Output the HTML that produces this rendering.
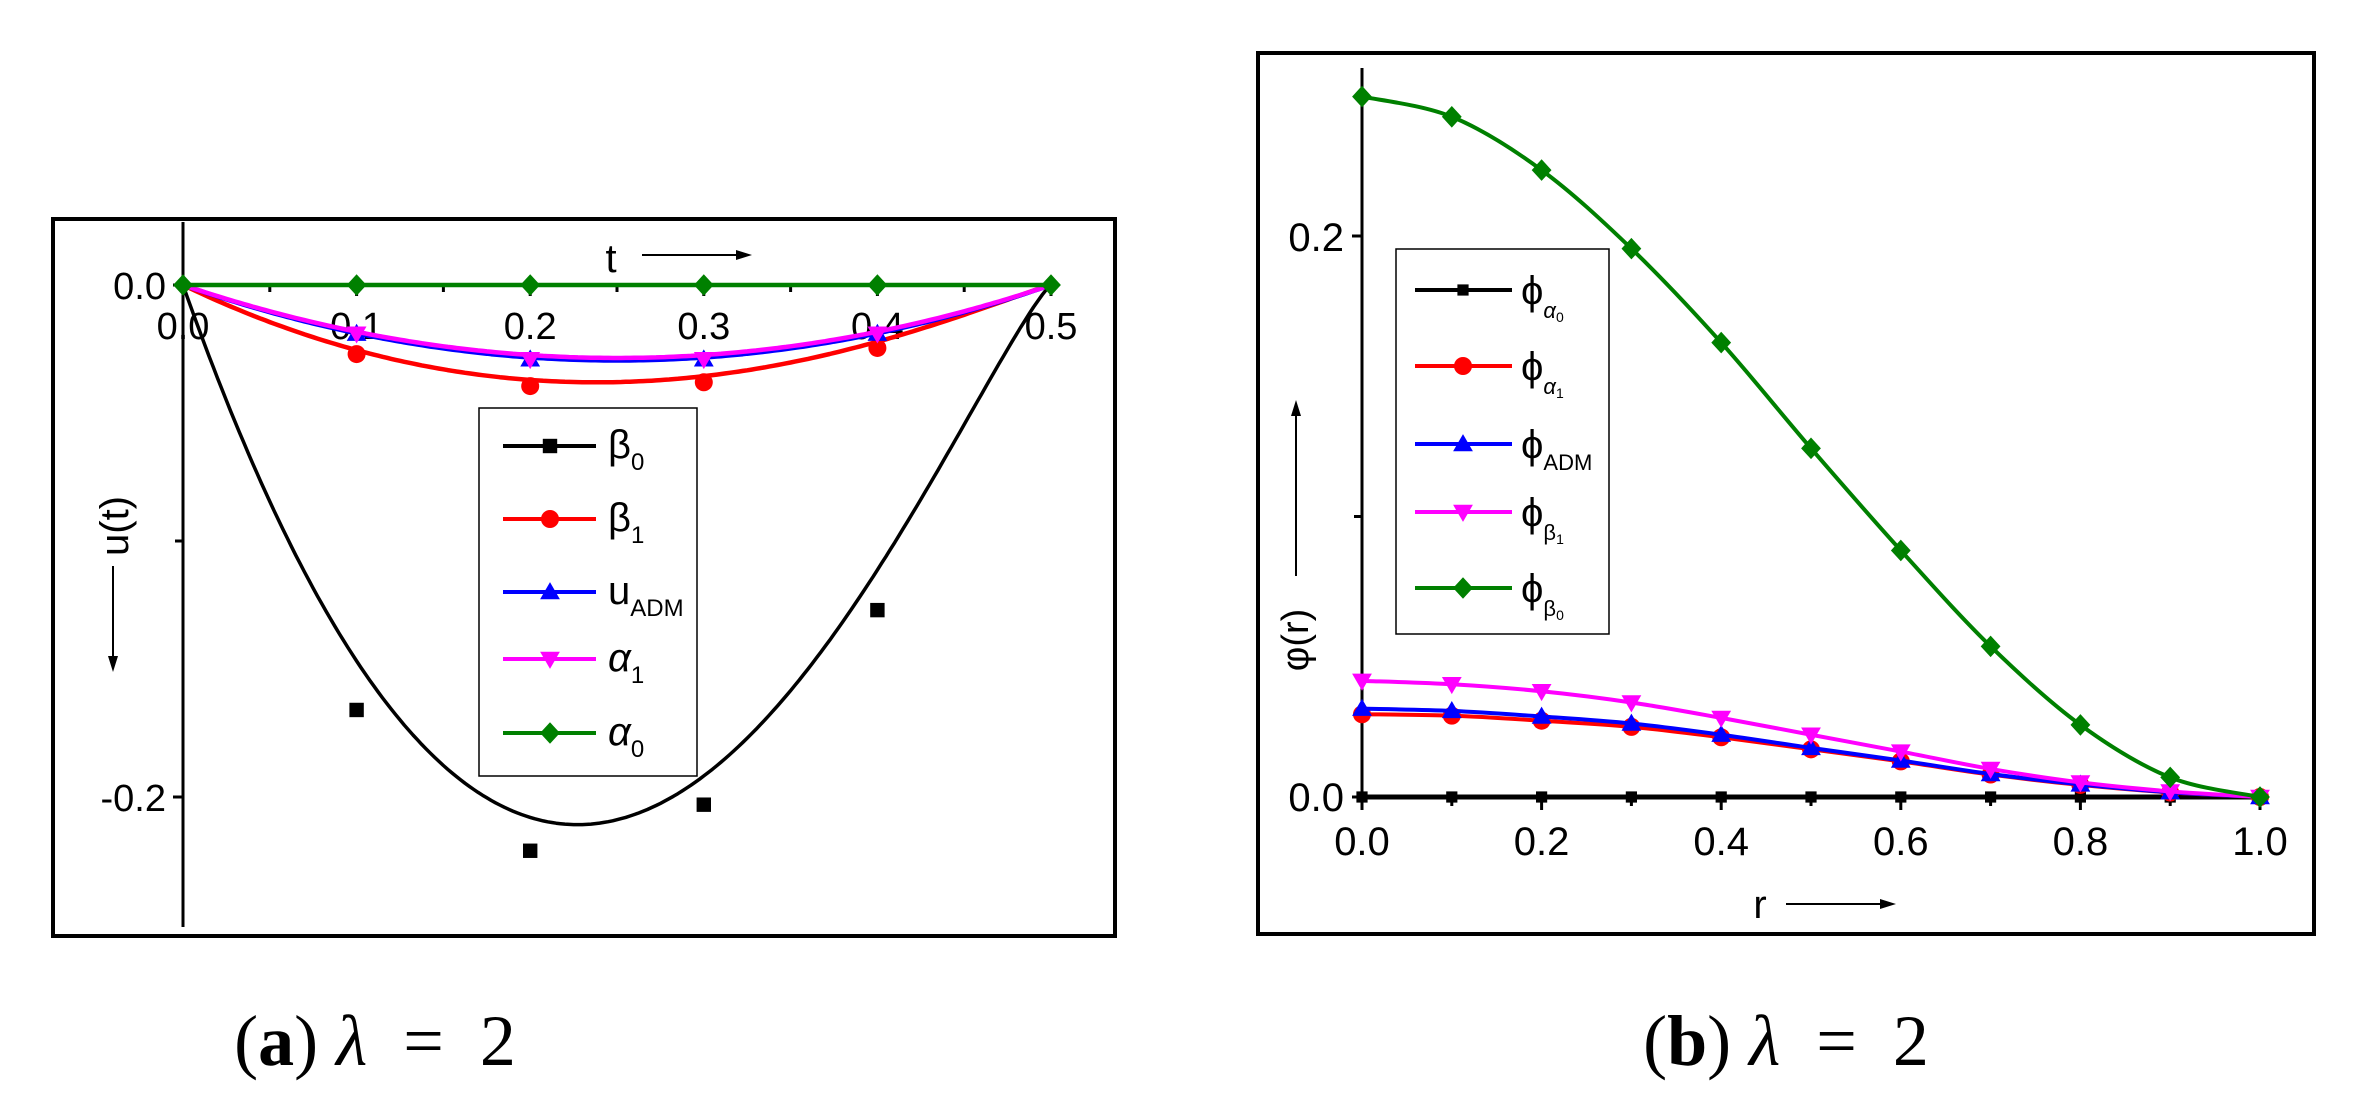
<!DOCTYPE html>
<html><head><meta charset="utf-8"><style>
html,body{margin:0;padding:0;background:#fff;}
svg{display:block;}
text{font-family:"Liberation Sans",Arial,sans-serif;}
.cap{font-family:"Liberation Serif","DejaVu Serif",serif;}
</style></head><body>
<svg id="s" width="2365" height="1095" viewBox="0 0 2365 1095" xmlns="http://www.w3.org/2000/svg">
<rect width="2365" height="1095" fill="#fff"/>
<rect x="53" y="219" width="1062" height="717" fill="none" stroke="#000" stroke-width="4"/>
<line x1="183" y1="222" x2="183" y2="927" stroke="#000" stroke-width="3"/>
<line x1="173" y1="285" x2="183" y2="285" stroke="#000" stroke-width="3"/>
<line x1="175" y1="541" x2="183" y2="541" stroke="#000" stroke-width="3"/>
<line x1="173" y1="797" x2="183" y2="797" stroke="#000" stroke-width="3"/>
<g font-size="38" text-anchor="end">
<text x="166" y="299">0.0</text>
<text x="166" y="811">-0.2</text>
</g>
<g font-size="38" text-anchor="middle" id="lxt"></g>
<text x="611" y="272" font-size="40" text-anchor="middle">t</text>
<line x1="642" y1="255" x2="740" y2="255" stroke="#000" stroke-width="2"/>
<polygon points="752,255 736,250 736,260" fill="#000"/>
<text transform="translate(128,526) rotate(-90)" font-size="40" text-anchor="middle">u(t)</text>
<line x1="113" y1="566" x2="113" y2="660" stroke="#000" stroke-width="2"/>
<polygon points="113,672 108,656 118,656" fill="#000"/>
<g id="left"></g>
<rect x="479" y="408" width="218" height="368" fill="#fff" stroke="#000" stroke-width="1.5"/>
<g id="lleg"></g>
<g font-size="40" font-family="Liberation Serif,serif">
<text x="608" y="458">β<tspan font-size="24" dy="12">0</tspan></text>
<text x="608" y="531">β<tspan font-size="24" dy="12">1</tspan></text>
<text x="608" y="604" font-family="Liberation Sans,sans-serif">u<tspan font-size="24" dy="12">ADM</tspan></text>
<text x="608" y="671" font-style="italic">α<tspan font-size="24" dy="12" font-style="normal">1</tspan></text>
<text x="608" y="745" font-style="italic">α<tspan font-size="24" dy="12" font-style="normal">0</tspan></text>
</g>

<rect x="1258" y="53" width="1056" height="881" fill="none" stroke="#000" stroke-width="4"/>
<line x1="1362" y1="68" x2="1362" y2="805" stroke="#000" stroke-width="3"/>
<line x1="1362" y1="797" x2="2262" y2="797" stroke="#000" stroke-width="3"/>
<g id="rt"></g>
<g font-size="40" text-anchor="end">
<text x="1344" y="811">0.0</text>
<text x="1344" y="251">0.2</text>
</g>
<g font-size="40" text-anchor="middle" id="rxt"></g>
<text x="1760" y="918" font-size="40" text-anchor="middle">r</text>
<line x1="1786" y1="904" x2="1884" y2="904" stroke="#000" stroke-width="2"/>
<polygon points="1896,904 1880,899 1880,909" fill="#000"/>
<text transform="translate(1308,640) rotate(-90)" font-size="38" text-anchor="middle">φ(r)</text>
<line x1="1296" y1="576" x2="1296" y2="412" stroke="#000" stroke-width="2"/>
<polygon points="1296,400 1291,416 1301,416" fill="#000"/>
<g id="right"></g>
<rect x="1396" y="249" width="213" height="385" fill="#fff" stroke="#000" stroke-width="1.5"/>
<g id="rleg"></g>
<g font-size="40" font-family="Liberation Serif,serif">
<text x="1521" y="304">ϕ<tspan font-size="22" dy="14" font-style="italic">α</tspan><tspan font-size="14" dy="4">0</tspan></text>
<text x="1521" y="380">ϕ<tspan font-size="22" dy="14" font-style="italic">α</tspan><tspan font-size="14" dy="4">1</tspan></text>
<text x="1521" y="458">ϕ<tspan font-size="22" dy="12" font-family="Liberation Sans,sans-serif">ADM</tspan></text>
<text x="1521" y="526">ϕ<tspan font-size="22" dy="14">β</tspan><tspan font-size="14" dy="4">1</tspan></text>
<text x="1521" y="602">ϕ<tspan font-size="22" dy="14">β</tspan><tspan font-size="14" dy="4">0</tspan></text>
</g>

<text class="cap" x="375" y="1065" font-size="72" text-anchor="middle" xml:space="preserve">(<tspan font-weight="bold">a</tspan>) <tspan font-style="italic">λ</tspan>  =  2</text>
<text class="cap" x="1786" y="1065" font-size="72" text-anchor="middle" xml:space="preserve">(<tspan font-weight="bold">b</tspan>) <tspan font-style="italic">λ</tspan>  =  2</text>
</svg>
<script>
var NS="http://www.w3.org/2000/svg";
function el(p,t,a){var e=document.createElementNS(NS,t);for(var k in a)e.setAttribute(k,a[k]);p.appendChild(e);return e;}
function path(pts){var d="M"+pts[0][0]+","+pts[0][1];for(var i=0;i<pts.length-1;i++){var p0=pts[i-1]||pts[i],p1=pts[i],p2=pts[i+1],p3=pts[i+2]||p2;
d+=" C"+(p1[0]+(p2[0]-p0[0])/6)+","+(p1[1]+(p2[1]-p0[1])/6)+" "+(p2[0]-(p3[0]-p1[0])/6)+","+(p2[1]-(p3[1]-p1[1])/6)+" "+p2[0]+","+p2[1];}return d;}
function poly(pts){return "M"+pts.map(function(p){return p[0].toFixed(1)+","+p[1].toFixed(1)}).join(" L");}
function marker(g,type,x,y,c,s){s=s||9;
if(type=="sq")el(g,"rect",{x:x-s*0.8,y:y-s*0.8,width:s*1.6,height:s*1.6,fill:c});
else if(type=="ci")el(g,"circle",{cx:x,cy:y,r:s,fill:c});
else if(type=="up")el(g,"polygon",{points:(x)+","+(y-s*1.1)+" "+(x-s*1.1)+","+(y+s*0.8)+" "+(x+s*1.1)+","+(y+s*0.8),fill:c});
else if(type=="dn")el(g,"polygon",{points:(x)+","+(y+s*1.1)+" "+(x-s*1.1)+","+(y-s*0.8)+" "+(x+s*1.1)+","+(y-s*0.8),fill:c});
else if(type=="di")el(g,"polygon",{points:x+","+(y-s*1.2)+" "+(x+s*1.1)+","+y+" "+x+","+(y+s*1.2)+" "+(x-s*1.1)+","+y,fill:c});}
var L=document.getElementById("left");
function lx(t){return 183+t*1736;} function ly(v){return 285-v*2560;}
var lxt=document.getElementById("lxt");
for(var i=0;i<=5;i++){var t=document.createElementNS(NS,"text");t.setAttribute("x",lx(i/10));t.setAttribute("y",339);t.textContent=(i/10).toFixed(1);lxt.appendChild(t);
el(L,"line",{x1:lx(i/10),y1:285,x2:lx(i/10),y2:296,stroke:"#000","stroke-width":3});}
for(var i=0;i<5;i++)el(L,"line",{x1:lx(i/10+0.05),y1:285,x2:lx(i/10+0.05),y2:292,stroke:"#000","stroke-width":3});
function fn(k,p){return function(t){return -k*t*Math.pow(Math.max(0.5-t,0),p);};}
var curves=[
 {c:"#000",f:fn(4.41,1.2),m:"sq",mp:[[0.1,-0.166],[0.2,-0.221],[0.3,-0.203],[0.4,-0.127]]},
 {c:"#f00",f:fn(0.697,1.1),m:"ci",mp:[[0.1,-0.027],[0.2,-0.0395],[0.3,-0.038],[0.4,-0.0246]]},
 {c:"#00f",f:fn(0.472,1),m:"up",mp:[[0.1,-0.019],[0.2,-0.029],[0.3,-0.029],[0.4,-0.019]]},
 {c:"#f0f",f:fn(0.456,1),m:"dn",mp:[[0.1,-0.019],[0.2,-0.029],[0.3,-0.029],[0.4,-0.019]]},
 {c:"#008000",f:function(){return 0;},m:"di",mp:[[0,0],[0.1,0],[0.2,0],[0.3,0],[0.4,0],[0.5,0]]}];
curves.forEach(function(s){var pts=[];for(var i=0;i<=200;i++){var t=i*0.0025;pts.push([lx(t),ly(s.f(t))]);}
el(L,"path",{d:poly(pts),fill:"none",stroke:s.c,"stroke-width":s.c=="#000"?3.5:4.5,"stroke-linejoin":"round"});
s.mp.forEach(function(p){marker(L,s.m,lx(p[0]),ly(p[1]),s.c)});});
var lleg=document.getElementById("lleg");var ly0=[446,519,592,659,733];var lm=["sq","ci","up","dn","di"],lc=["#000","#f00","#00f","#f0f","#008000"];
for(var i=0;i<5;i++){el(lleg,"line",{x1:503,y1:ly0[i],x2:596,y2:ly0[i],stroke:lc[i],"stroke-width":4});marker(lleg,lm[i],550,ly0[i],lc[i]);}
var R=document.getElementById("right"),RT=document.getElementById("rt");
function rx(r){return 1362+r*898;} function ry(v){return 797-v*2805;}
var rxt=document.getElementById("rxt");
for(var i=0;i<=5;i++){var t=document.createElementNS(NS,"text");t.setAttribute("x",rx(i/5));t.setAttribute("y",855);t.textContent=(i/5).toFixed(1);rxt.appendChild(t);
el(RT,"line",{x1:rx(i/5),y1:797,x2:rx(i/5),y2:810,stroke:"#000","stroke-width":3});}
for(var i=0;i<5;i++)el(RT,"line",{x1:rx(i/5+0.1),y1:797,x2:rx(i/5+0.1),y2:806,stroke:"#000","stroke-width":3});
[0,0.1,0.2].forEach(function(v,i){el(RT,"line",{x1:1352+(i==1?2:0),y1:ry(v),x2:1362,y2:ry(v),stroke:"#000","stroke-width":3});});
var rs=[0,0.1,0.2,0.3,0.4,0.5,0.6,0.7,0.8,0.9,1];
var rser=[
 {c:"#000",m:"sq",v:[0,0,0,0,0,0,0,0,0,0,0]},
 {c:"#f00",m:"ci",v:[0.0295,0.029,0.0272,0.0250,0.0213,0.0170,0.0127,0.0080,0.0043,0.0016,0]},
 {c:"#00f",m:"up",v:[0.0315,0.0307,0.0287,0.0262,0.0222,0.0175,0.013,0.0082,0.0045,0.0017,0]},
 {c:"#f0f",m:"dn",v:[0.0414,0.0402,0.0377,0.0337,0.0282,0.0222,0.0162,0.0100,0.0052,0.002,0]},
 {c:"#008000",m:"di",v:[0.2497,0.2425,0.2235,0.1955,0.162,0.1243,0.0879,0.0537,0.0257,0.007,0]}];
rser.forEach(function(s){var pts=rs.map(function(r,i){return[rx(r),ry(s.v[i])]});
el(R,"path",{d:path(pts),fill:"none",stroke:s.c,"stroke-width":s.c=="#000"?5:4});
pts.forEach(function(p){marker(R,s.m,p[0],p[1],s.c,s.m=="sq"?7:9)});});
var rleg=document.getElementById("rleg");var ry0=[290,366,444,512,588];
for(var i=0;i<5;i++){el(rleg,"line",{x1:1415,y1:ry0[i],x2:1512,y2:ry0[i],stroke:rser[i].c,"stroke-width":4});marker(rleg,rser[i].m,1463,ry0[i],rser[i].c,rser[i].m=="sq"?7:9);}
</script>
</body></html>
